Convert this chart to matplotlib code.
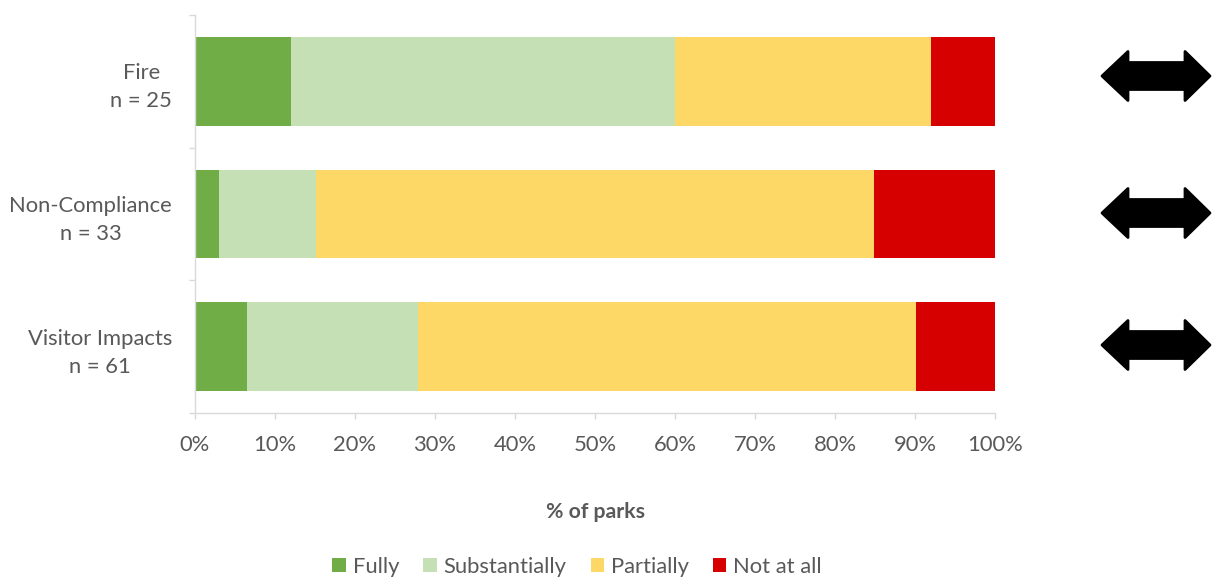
import matplotlib
matplotlib.use("Agg")
import matplotlib.pyplot as plt
from matplotlib.patches import Polygon, Patch
from matplotlib.transforms import IdentityTransform, ScaledTranslation
from matplotlib.ticker import FixedLocator, PercentFormatter

# Share of parks (%) at each level of achievement, per issue
categories = ["Fire\nn = 25", "Non-Compliance\nn = 33", "Visitor Impacts\nn = 61"]
series = ["Fully", "Substantially", "Partially", "Not at all"]
fully = [12.0, 3.03, 6.56]
substantially = [48.0, 12.12, 21.31]
partially = [32.0, 69.70, 62.30]
not_at_all = [8.0, 15.15, 9.84]
xticks = list(range(0, 101, 10))

colors = ["#70AD47", "#C5E0B4", "#FED867", "#D60000"]
text_color = "#595959"
axis_color = "#D9D9D9"

FS = 15.8
plt.rcParams["font.family"] = ["Lato", "DejaVu Sans"]
plt.rcParams["font.size"] = FS

W, H = 1216, 578
fig = plt.figure(figsize=(W / 100, H / 100), dpi=100)
ax = fig.add_axes([195 / W, 1 - 413 / H, 800 / W, 398 / H])

ypos = list(range(len(categories)))
left = [0.0] * len(categories)
for name, vals, col in zip(series, [fully, substantially, partially, not_at_all], colors):
    ax.barh(ypos, vals, left=left, height=0.67, color=col, label=name, linewidth=0)
    left = [a + b for a, b in zip(left, vals)]

ax.set_xlim(0, 100)
ax.set_ylim(2.5, -0.5)
ax.set_xticks(xticks)
ax.xaxis.set_major_formatter(PercentFormatter(decimals=0))
ax.set_yticks(ypos)
ax.set_yticklabels(categories, multialignment="center", ha="right",
                   linespacing=1.5)
ax.yaxis.set_minor_locator(FixedLocator([-0.5, 0.5, 1.5, 2.5]))

# nudge the category labels up slightly
shift = ScaledTranslation(0, 4 / 100, fig.dpi_scale_trans)
for lbl in ax.get_yticklabels():
    lbl.set_transform(lbl.get_transform() + shift)

for side in ("top", "right"):
    ax.spines[side].set_visible(False)
for side in ("left", "bottom"):
    ax.spines[side].set_color(axis_color)
    ax.spines[side].set_linewidth(1.0)

ax.tick_params(axis="y", which="major", length=0, pad=16.5, colors=text_color,
               labelsize=FS)
ax.tick_params(axis="y", which="minor", length=4.5, width=1.0, color=axis_color)
ax.tick_params(axis="x", which="major", length=4, width=1.0, color=axis_color,
               labelcolor=text_color, labelsize=FS, pad=12)

ax.set_xlabel("% of parks", fontsize=FS - 0.5, fontweight="bold", color=text_color,
              labelpad=34)

handles = [Patch(facecolor=c, edgecolor="none") for c in colors]
fig.legend(handles, series, loc="center", bbox_to_anchor=(577 / W, 1 - 567 / H),
           ncol=4, frameon=False, handlelength=0.62, handleheight=0.62,
           handletextpad=0.3, columnspacing=1.1, labelcolor=text_color,
           fontsize=FS)

# Double-headed arrows to the right of each bar (pixel coordinates)
arrow_rows = [76, 213, 345]
x_tip_l, x_head_l, x_head_r, x_tip_r = 1102, 1128, 1185, 1210
head_half, shaft_half = 24.5, 13.5
for yc in arrow_rows:
    pts = [
        (x_tip_l, yc), (x_head_l, yc - head_half), (x_head_l, yc - shaft_half),
        (x_head_r, yc - shaft_half), (x_head_r, yc - head_half), (x_tip_r, yc),
        (x_head_r, yc + head_half), (x_head_r, yc + shaft_half),
        (x_head_l, yc + shaft_half), (x_head_l, yc + head_half),
    ]
    pts = [(x, H - y) for x, y in pts]
    poly = Polygon(pts, closed=True, facecolor="black", edgecolor="black",
                   linewidth=2.0, joinstyle="round", transform=IdentityTransform())
    fig.add_artist(poly)

fig.savefig("out.png", dpi=100)
